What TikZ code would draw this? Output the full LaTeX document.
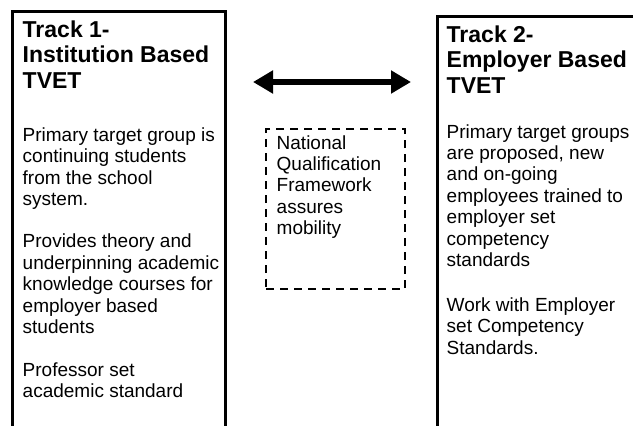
\documentclass[tikz,border=0pt]{standalone}
\usepackage{fontspec}
\setmainfont{Liberation Sans}
\usetikzlibrary{arrows.meta}
\begin{document}
\begin{tikzpicture}[x=1pt,y=-1pt,
  trackbox/.style={draw=black, line width=3pt, rectangle, anchor=north west,
    inner sep=0pt, minimum width=#1, minimum height=440pt},
  nqfbox/.style={draw=black, line width=2.4pt, dash pattern=on 8pt off 6pt,
    rectangle, anchor=north west, inner sep=0pt,
    minimum width=139pt, minimum height=160pt},
  % text blocks are placed by the baseline of their last line
  headtext/.style={anchor=base west, align=left, inner sep=0pt,
    font=\fontsize{23}{25.7}\selectfont\bfseries},
  bodytext/.style={anchor=base west, align=left, inner sep=0pt,
    font=\fontsize{19}{21.4}\selectfont},
  bigarrow/.style={line width=6pt,
    {Triangle[length=20pt,width=22pt]}-{Triangle[length=20pt,width=22pt]}}]
\useasboundingbox (0,0) rectangle (633,426);
\clip (0,0) rectangle (633,426);

% Track 1 column
\node[trackbox=212.5pt] (track1) at (11,10) {};
\node[headtext] (t1head) at (22.5,88.4) {Track 1-\\Institution Based\\TVET};
\node[bodytext] (t1p1) at (22.5,205.5) {Primary target group is\\continuing students\\from the school\\system.};
\node[bodytext] (t1p2) at (22.5,333.5) {Provides theory and\\underpinning academic\\knowledge courses for\\employer based\\students};
\node[bodytext] (t1p3) at (22.5,397.9) {Professor set\\academic standard};

% Track 2 column
\node[trackbox=230pt] (track2) at (435.5,14.5) {};
\node[headtext] (t2head) at (446.5,93.4) {Track 2-\\Employer Based\\TVET};
\node[bodytext] (t2p1) at (446.5,266.4) {Primary target groups\\are proposed, new\\and on-going\\employees trained to\\employer set\\competency\\standards};
\node[bodytext] (t2p2) at (446.5,354) {Work with Employer\\set Competency\\Standards.};

% two-way link between the tracks
\coordinate (linkL) at (253,82);
\coordinate (linkR) at (411,82);
\draw[bigarrow] (linkL) -- (linkR);

% qualification framework
\node[nqfbox] (nqf) at (265,128) {};
\node[bodytext] (nqftext) at (276.5,234.6) {National\\Qualification\\Framework\\assures\\mobility};
\end{tikzpicture}
\end{document}
